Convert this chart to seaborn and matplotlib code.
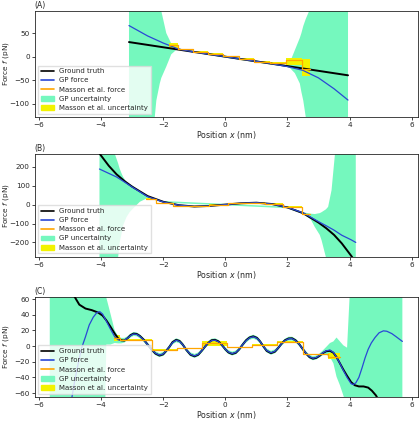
import numpy as np
import matplotlib
matplotlib.use("Agg")
import matplotlib.pyplot as plt
import seaborn as sns
from matplotlib.lines import Line2D
from matplotlib.patches import Patch

# ---------------- panel A ----------------
truth_A_x = [-3.1, 3.95]
truth_A_f = [31, -39.5]
gp_A_x = [-3.1, -2.5, -2.0, -1.5, -1.0, -0.5, 0.0, 0.5, 1.0, 1.5, 2.0, 2.5, 3.0, 3.5, 3.95]
gp_A_f = [66, 44, 29, 16, 10, 5, 0, -5, -10, -15, -21, -29, -45, -68, -92]
band_A_x = [-3.1, -2.5, -2.27, -2.22, -2.11, -2.06, -1.9, -1.74, -1.57, -1.2, 0.0, 1.2,
            1.97, 2.08, 2.24, 2.40, 2.45, 2.51, 2.59, 2.70, 2.9, 3.95]
band_A_hi = [3000, 1000, 400, 330, 150, 97, 50, 28, 18, 14, 2, -10,
             -18, -12, 14, 40, 50, 65, 80, 97, 300, 3000]
band_A_lo = [-3000, -1000, -128, -93, -57, -45, -21, 5, 15, 11, -2, -14,
             -21, -24, -35, -57, -75, -93, -128, -300, -1000, -3000]
masson_A_edges = [-1.8, -1.53, -1.04, -0.55, -0.07, 0.43, 0.92, 1.43, 1.95, 2.46, 2.72]
masson_A_f = [25, 15.5, 10, 5.5, 1, -4, -10.5, -13, -7, -27]
masson_A_lo = [19, 14, 8.5, 4, -0.5, -5.5, -12, -14.5, -18, -41]
masson_A_hi = [30, 17, 11.5, 7, 2.5, -2.5, -9, -11.5, -2, -4]

# ---------------- panel B ----------------
truth_B_x = [-4.05, -3.75, -3.5, -3.25, -3.0, -2.5, -2.0, -1.5, -1.0, -0.5, 0.0, 0.5, 1.0,
             1.5, 2.0, 2.5, 3.0, 3.25, 3.5, 3.75, 4.05, 4.2]
truth_B_f = [270, 205, 160, 125, 95, 45, 15, -3, -10, -7, 0, 7, 10,
             3, -15, -45, -95, -125, -160, -205, -270, -305]
gp_B_x = truth_B_x
gp_B_f = [188, 165, 146, 120, 93, 42, 14, -3, -10, -7, 0, 7, 10,
          3, -15, -43, -90, -112, -135, -162, -186, -200]
band_B_x = [-4.05, -3.72, -3.56, -3.45, -3.4, -3.34, -3.29, -3.18, -3.08, -2.97, -2.75, -2.65,
            -2.49, -2.0, 0.0, 2.0, 2.5, 2.75, 2.88, 3.04, 3.1, 3.24, 3.31, 3.42, 3.53, 3.7, 4.2]
band_B_hi = [5000, 400, 270, 218, 190, 165, 147, 118, 108, 98, 70, 60,
             44, 19, 4, -11, -40, -48, -50, -45, -40, -25, -12, 76, 267, 1000, 5000]
band_B_lo = [-5000, -1000, -500, -279, -200, -154, -110, -66, -40, -21, 15, 23,
             36, 11, -4, -19, -50, -78, -118, -160, -189, -279, -400, -1000, -2000, -3000, -5000]
masson_B_edges = [-2.56, -2.24, -1.68, -1.1, -0.52, 0.08, 0.65, 1.27, 1.86, 2.46, 2.72]
masson_B_f = [32, 7, -8, -10, -1, 6, 9, 5, -13, -52]
masson_B_lo = [29, 4, -11, -13, -4, 3, 6, 2, -16, -55]
masson_B_hi = [35, 10, -5, -7, 2, 9, 12, 8, -10, -49]

# ---------------- panel C ----------------
truth_C_x = [-5.3, -4.95, -4.85, -4.7, -4.5, -4.3, -4.1, -3.95, -3.83, -3.7, -3.56, -3.45,
             -3.35, -3.25, -3.15, -3.05, -2.95, -2.85, -2.75, -2.62, -2.5, -2.38, -2.25,
             -2.12, -2.0, -1.9, -1.8, -1.7, -1.58, -1.47, -1.37, -1.25, -1.12, -0.99, -0.87,
             -0.76, -0.66, -0.55, -0.44, -0.33, -0.22, -0.11, 0.0, 0.1, 0.22, 0.34, 0.45,
             0.56, 0.67, 0.78, 0.9, 1.02, 1.12, 1.22, 1.33, 1.47, 1.6, 1.7, 1.81, 1.92, 2.04,
             2.15, 2.26, 2.37, 2.48, 2.6, 2.71, 2.82, 2.93, 3.03, 3.14, 3.25, 3.37, 3.48,
             3.58, 3.69, 3.8, 3.92, 4.05, 4.17, 4.3, 4.45, 4.6, 4.72, 4.85, 4.95, 5.3]
truth_C_f = [110, 75, 63, 53, 48, 46, 43, 39, 33, 25, 16, 10,
             7.5, 7, 10, 14, 16, 15.5, 13, 8, 2, -4, -9.5,
             -12, -10.5, -6, -1, 5, 8, 6.5, 2, -5, -11, -13, -11,
             -6, -1, 4, 7.5, 8, 6, 1.5, -4, -8, -10, -8.5, -4,
             2, 7.5, 11, 12.5, 10.5, 6, 0, -6, -9, -7, -2.5, 3, 7.5, 9.8,
             10, 7.5, 3, -3, -9.5, -14, -16, -15, -12.5, -9, -6.5, -6, -8.5,
             -14, -22, -30, -38, -46, -50, -51.5, -51.5, -53, -57, -63, -70, -110]
gp_C_x = [-5.65, -5.3, -5.0, -4.85, -4.75, -4.63, -4.5, -4.38, -4.25, -4.13, -4.04, -3.95,
          -3.83, -3.7, -3.56, -3.45, -3.35, -3.25, -3.15, -3.05, -2.95, -2.85, -2.75, -2.62,
          -2.5, -2.38, -2.25, -2.12, -2.0, -1.9, -1.8, -1.7, -1.58, -1.47, -1.37, -1.25,
          -1.12, -0.99, -0.87, -0.76, -0.66, -0.55, -0.44, -0.33, -0.22, -0.11, 0.0, 0.1,
          0.22, 0.34, 0.45, 0.56, 0.67, 0.78, 0.9, 1.02, 1.12, 1.22, 1.33, 1.47, 1.6, 1.7,
          1.81, 1.92, 2.04, 2.15, 2.26, 2.37, 2.48, 2.6, 2.71, 2.82, 2.93, 3.03, 3.14, 3.25,
          3.37, 3.48, 3.58, 3.69, 3.8, 3.92, 4.05, 4.12, 4.2, 4.3, 4.4, 4.5, 4.6, 4.7, 4.82,
          4.95, 5.09, 5.2, 5.36, 5.5, 5.6, 5.7]
gp_C_f = [-220, -150, -80, -45, -25, -3, 12, 27, 37, 43, 44, 41,
          32, 22, 12, 8, 7, 7.5, 10, 13.5, 15.5, 15, 12.5, 7.5,
          2, -4, -9, -11.5, -10, -6, -1, 4.5, 7.5, 6, 2, -5,
          -10.5, -12.5, -10.5, -6, -1, 4, 7, 7.5, 5.5, 1.5, -4, -7.5,
          -9.5, -8, -4, 2, 7, 10.5, 12, 10, 6, 0, -5.5, -8.5, -6.5, -2.5,
          3, 7, 9.5, 9.5, 7, 3, -3, -9, -13.5, -15.5, -14.5, -12, -8.5, -6,
          -5, -8, -14, -22, -31, -40, -48, -49, -47, -40, -28, -15, -4, 4, 11,
          17, 19.5, 19, 16, 12, 9, 6]
gp_C_sd = [300, 300, 300, 300, 300, 300, 300, 300, 300, 300, 300, 300,
           30, 20, 8, 4.5, 3.5, 3, 2.5, 2.5, 2.5, 2.5, 2.5, 2.5,
           2.5, 2.5, 2.5, 2.5, 2.5, 2.5, 2.5, 2.5, 2.5, 2.5, 2.5, 2.5,
           2.5, 2.5, 2.5, 2.5, 2.5, 2.5, 2.5, 2.5, 2.5, 2.5, 2.5, 2.5,
           2.5, 2.5, 2.5, 2.5, 2.5, 2.5, 2.5, 2.5, 2.5, 2.5, 2.5, 2.5, 2.5, 2.5,
           2.5, 2.5, 2.5, 2.5, 2.5, 2.5, 2.5, 2.5, 2.5, 2.5, 2.5, 2.5, 3, 5,
           9, 14, 25, 28, 32, 38, 150, 300, 300, 300, 300, 300, 300, 300, 300,
           300, 300, 300, 300, 300, 300, 300]
masson_C_edges = [-3.58, -3.38, -2.37, -1.54, -0.75, 0.04, 0.85, 1.65, 2.49, 3.3, 3.69]
masson_C_f = [10, 7.5, -4.7, -3, 3.5, -1.5, 1.5, 5, -10.5, -13.5]
masson_C_lo = [7, 6.5, -5.7, -4, 0, -2.5, 0.5, 4, -11.5, -17]
masson_C_hi = [14, 8.5, -3.7, -2, 6, -0.5, 2.5, 6, -9.5, -9]

GREEN = "#75f8be"
YELLOW = "#f2f200"
BLUE = "#2a48d6"
ORANGE = "orange"

sns.set_style("ticks")
plt.rcParams["font.family"] = ["DejaVu Sans"]
plt.rcParams["font.size"] = 5.2
plt.rcParams["axes.linewidth"] = 0.6
plt.rcParams["xtick.major.width"] = 0.6
plt.rcParams["ytick.major.width"] = 0.6
plt.rcParams["xtick.major.size"] = 2.5
plt.rcParams["ytick.major.size"] = 2.5

fig = plt.figure(figsize=(4.2, 4.21), dpi=100)
positions = [[0.083, 0.722, 0.912, 0.252],
             [0.083, 0.390, 0.912, 0.244],
             [0.083, 0.057, 0.912, 0.238]]


def ext(v):
    return list(v) + [v[-1]]


def panel(ax, tx, tf, gx, gf, blo, bhi, bx, mx, mf, mlo, mhi, ylim, yticks, tag):
    ax.fill_between(bx, blo, bhi, color=GREEN, lw=0, zorder=1)
    ax.fill_between(mx, ext(mlo), ext(mhi), step="post", color=YELLOW, lw=0, zorder=2)
    sns.lineplot(x=tx, y=tf, sort=False, estimator=None, color="k", lw=1.4, ax=ax, zorder=3)
    sns.lineplot(x=gx, y=gf, sort=False, estimator=None, color=BLUE, lw=0.9, ax=ax, zorder=4)
    sns.lineplot(x=mx, y=ext(mf), sort=False, estimator=None, drawstyle="steps-post",
                 color=ORANGE, lw=0.9, ax=ax, zorder=5)
    ax.set_xlim(-6.13, 6.2)
    ax.set_ylim(*ylim)
    ax.set_yticks(yticks)
    ax.set_xticks([-6, -4, -2, 0, 2, 4, 6])
    ax.set_xlabel(r"Position $x$ (nm)", fontsize=5.7, labelpad=0.5)
    ax.set_ylabel(r"Force $f$ (pN)", fontsize=5.3)
    ax.yaxis.set_label_coords(-0.061, 0.5)
    ax.tick_params(labelsize=5.2, pad=1.2)
    ax.set_title(tag, loc="left", fontsize=5.5, pad=2)
    handles = [Line2D([], [], color="k", lw=1.2), Line2D([], [], color=BLUE, lw=1.2),
               Line2D([], [], color=ORANGE, lw=1.2), Patch(color=GREEN), Patch(color=YELLOW)]
    labels = ["Ground truth", "GP force", "Masson et al. force", "GP uncertainty",
              "Masson et al. uncertainty"]
    ax.legend(handles, labels, loc="lower left", fontsize=5.0, framealpha=0.8,
              borderpad=0.4, labelspacing=0.45, handlelength=1.8, handletextpad=0.8,
              borderaxespad=0.5, fancybox=False, edgecolor="0.85")


axA = fig.add_axes(positions[0])
panel(axA, truth_A_x, truth_A_f, gp_A_x, gp_A_f, band_A_lo, band_A_hi, band_A_x,
      masson_A_edges, masson_A_f, masson_A_lo, masson_A_hi, (-128, 97), [-100, -50, 0, 50], "(A)")

axB = fig.add_axes(positions[1])
panel(axB, truth_B_x, truth_B_f, gp_B_x, gp_B_f, band_B_lo, band_B_hi, band_B_x,
      masson_B_edges, masson_B_f, masson_B_lo, masson_B_hi, (-276, 267), [-200, -100, 0, 100, 200], "(B)")

gC_lo = np.array(gp_C_f) - np.array(gp_C_sd)
gC_hi = np.array(gp_C_f) + np.array(gp_C_sd)
axC = fig.add_axes(positions[2])
panel(axC, truth_C_x, truth_C_f, gp_C_x, gp_C_f, gC_lo, gC_hi, gp_C_x,
      masson_C_edges, masson_C_f, masson_C_lo, masson_C_hi, (-65, 63), [-60, -40, -20, 0, 20, 40, 60], "(C)")

fig.savefig("out.png", dpi=100)
